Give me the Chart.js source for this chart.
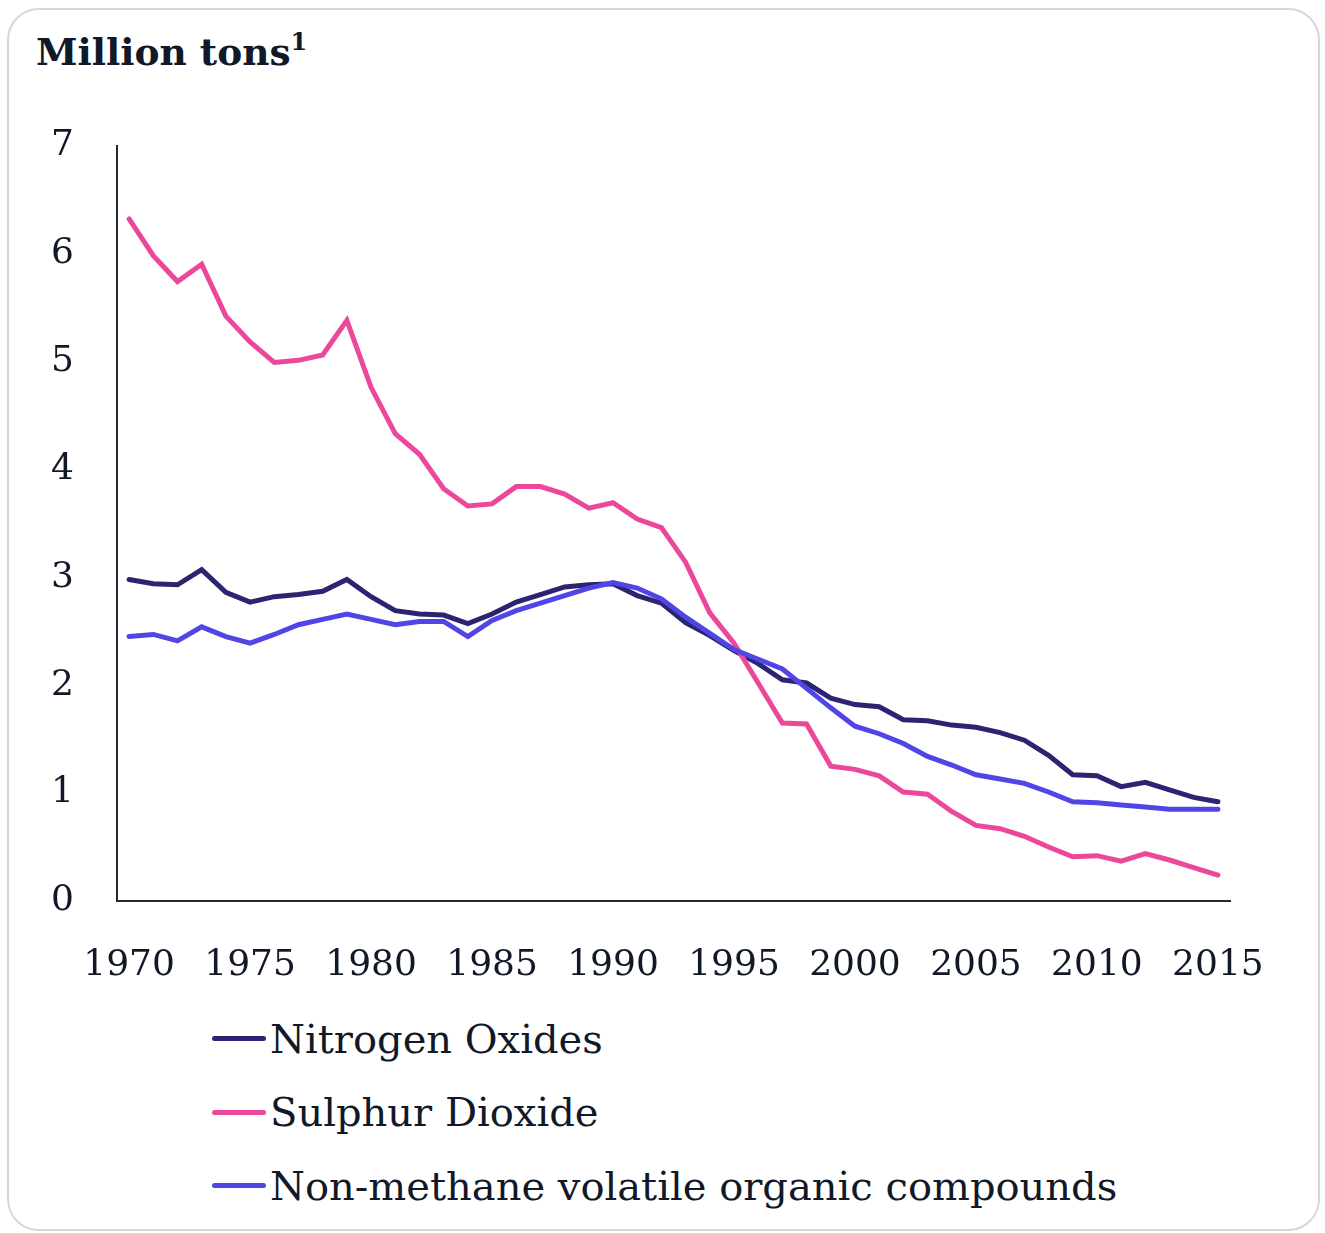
<!DOCTYPE html>
<html>
<head>
<meta charset="utf-8">
<script src="https://cdn.jsdelivr.net/npm/chart.js@4"></script>
<style>
  html, body { margin: 0; padding: 0; background: #ffffff; }
  body { width: 1325px; height: 1233px; position: relative; overflow: hidden; font-family: "DejaVu Serif", serif; color: #111827; }
  #card { position: absolute; left: 7px; top: 8px; width: 1309px; height: 1219px; border: 2.5px solid #d4d8de; border-radius: 32px; box-sizing: content-box; }
  #title { position: absolute; left: 36px; top: 27px; font-size: 37.5px; font-weight: bold; line-height: 50px; white-space: nowrap; }
  #title sup { font-size: 24px; font-weight: bold; vertical-align: 15px; line-height: 0; }
  #wrap { position: absolute; left: 0; top: 89px; width: 1325px; height: 911px; }
  #legend { position: absolute; left: 212px; top: 1002px; }
  .item { height: 73.5px; display: flex; align-items: center; font-size: 40px; white-space: nowrap; }
  .swatch { width: 54px; height: 5px; border-radius: 3px; margin-right: 4px; }
</style>
</head>
<body>
<div id="card"></div>
<div id="title">Million tons<sup>1</sup></div>
<div id="wrap"><canvas id="c" width="1325" height="911"></canvas></div>
<div id="legend"></div>
<script>
const years = [1970,1971,1972,1973,1974,1975,1976,1977,1978,1979,
               1980,1981,1982,1983,1984,1985,1986,1987,1988,1989,
               1990,1991,1992,1993,1994,1995,1996,1997,1998,1999,
               2000,2001,2002,2003,2004,2005,2006,2007,2008,2009,
               2010,2011,2012,2013,2014,2015];
const nitrogenOxides = [2.98,2.94,2.93,3.07,2.86,2.77,2.82,2.84,2.87,2.98,
                        2.82,2.69,2.66,2.65,2.57,2.66,2.77,2.84,2.91,2.93,
                        2.94,2.83,2.76,2.58,2.46,2.32,2.20,2.05,2.02,1.88,
                        1.82,1.80,1.68,1.67,1.63,1.61,1.56,1.49,1.35,1.17,
                        1.16,1.06,1.10,1.03,0.96,0.92];
const sulphurDioxide = [6.32,5.98,5.74,5.90,5.42,5.18,4.99,5.01,5.06,5.38,
                        4.76,4.33,4.14,3.82,3.66,3.68,3.84,3.84,3.77,3.64,
                        3.69,3.54,3.46,3.14,2.67,2.39,2.02,1.65,1.64,1.25,
                        1.22,1.16,1.01,0.99,0.83,0.70,0.67,0.60,0.50,0.41,
                        0.42,0.37,0.44,0.38,0.31,0.24];
const nmvoc = [2.45,2.47,2.41,2.54,2.45,2.39,2.47,2.56,2.61,2.66,
               2.61,2.56,2.59,2.59,2.45,2.60,2.69,2.76,2.83,2.90,
               2.95,2.90,2.80,2.63,2.48,2.33,2.24,2.15,1.97,1.79,
               1.62,1.55,1.46,1.34,1.26,1.17,1.13,1.09,1.01,0.92,
               0.91,0.89,0.87,0.85,0.85,0.85];
const seriesNames = ["Nitrogen Oxides", "Sulphur Dioxide", "Non-methane volatile organic compounds"];
const seriesColors = ["#2b2470", "#ec4899", "#4f46e5"];
const yTicks = [0,1,2,3,4,5,6,7];

const seriesData = [nitrogenOxides, sulphurDioxide, nmvoc];
const drawOrder = [2, 1, 0];

const datasets = seriesNames.map((name, i) => ({
  label: name,
  data: seriesData[i],
  borderColor: seriesColors[i],
  backgroundColor: seriesColors[i],
  borderWidth: 5,
  pointRadius: 0,
  tension: 0,
  fill: false,
  order: drawOrder[i],
  borderCapStyle: 'round',
  borderJoinStyle: 'miter'
}));

const tickFont = { family: "DejaVu Serif", size: 36 };

new Chart(document.getElementById('c'), {
  type: 'line',
  data: { labels: years, datasets: datasets },
  options: {
    responsive: false,
    animation: false,
    layout: { padding: { left: 0, right: 95, top: 13, bottom: 0 } },
    plugins: { legend: { display: false }, tooltip: { enabled: false } },
    scales: {
      x: {
        type: 'category',
        offset: true,
        grid: { display: false },
        border: { display: true, color: '#1f2937', width: 2 },
        afterFit: (s) => { s.height = 99; },
        ticks: {
          autoSkip: false,
          maxRotation: 0,
          minRotation: 0,
          padding: 35,
          color: '#111827',
          font: tickFont,
          callback: function(value, index) {
            const y = years[index];
            return (y % 5 === 0) ? String(y) : '';
          }
        }
      },
      y: {
        min: yTicks[0],
        max: yTicks[yTicks.length - 1],
        grid: { display: false },
        border: { display: true, color: '#1f2937', width: 2 },
        afterFit: (s) => { s.width = 117; },
        afterBuildTicks: (s) => { s.ticks = yTicks.map(v => ({ value: v })); },
        ticks: {
          padding: 35,
          color: '#111827',
          font: tickFont
        }
      }
    }
  }
});

const legend = document.getElementById('legend');
seriesNames.forEach((name, i) => {
  const row = document.createElement('div');
  row.className = 'item';
  const sw = document.createElement('span');
  sw.className = 'swatch';
  sw.style.background = seriesColors[i];
  const tx = document.createElement('span');
  tx.textContent = name;
  row.appendChild(sw);
  row.appendChild(tx);
  legend.appendChild(row);
});
</script>
</body>
</html>
